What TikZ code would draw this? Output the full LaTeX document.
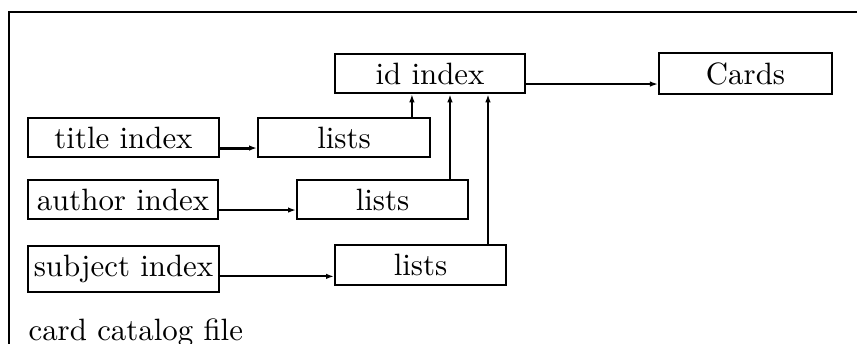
\documentclass[tikz,border=0pt]{standalone}
\usepackage{tikz}
\usetikzlibrary{arrows.meta, calc}

\begin{document}
\begin{tikzpicture}[
    x=0.3241pt, y=-0.3241pt,
    index/.style={rectangle, draw, line width=0.65pt, inner xsep=0pt, inner ysep=2.9pt, text centered},
    link/.style={-{Latex[length=2.6pt,width=1.8pt]}, line width=0.6pt}
]
    \clip (0,0) rectangle (857,343);

    % Outer frame
    \draw[line width=0.65pt] (9,12) rectangle (900,400);
    \node[anchor=base west, inner sep=0pt] (caption) at (28,340) {card catalog file};

    % Index and card nodes
    \node[index, minimum width=61.6pt] (idindex) at (430,73.5) {id index};
    \node[index, minimum width=56.1pt] (cards) at (745.5,73.5) {Cards};

    \node[index, minimum width=61.9pt] (title) at (123.5,137.5) {title index};
    \node[index, minimum width=61.6pt] (author) at (123,199.5) {author index};
    \node[index, minimum width=61.9pt, anchor=north] (subject) at (123.5,245) {subject index};

    % Lists
    \node[index, minimum width=55.7pt] (lists1) at (344,137.5) {lists};
    \node[index, minimum width=55.4pt] (lists2) at (382.5,199.5) {lists};
    \node[index, minimum width=55.4pt] (lists3) at (420.5,265) {lists};

    % Feet of the lines up to the id index
    \coordinate (up1) at ($(lists1.north east)+(-19,0)$);
    \coordinate (up2) at ($(lists2.north east)+(-19,0)$);
    \coordinate (up3) at ($(lists3.north east)+(-19,0)$);

    % Connections
    \draw[link] (idindex.base east) -- (idindex.base east -| cards.west);
    \draw[link, line width=0.95pt] (title.base east) -- (title.base east -| lists1.west);
    \draw[link] (author.base east) -- (author.base east -| lists2.west);
    \draw[link] (subject.base east) -- (subject.base east -| lists3.west);
    \draw[link, line width=0.45pt] (up1) -- (up1 |- idindex.south);
    \draw[link, line width=0.9pt] (up2) -- (up2 |- idindex.south);
    \draw[link, line width=0.9pt] (up3) -- (up3 |- idindex.south);
\end{tikzpicture}
\end{document}
